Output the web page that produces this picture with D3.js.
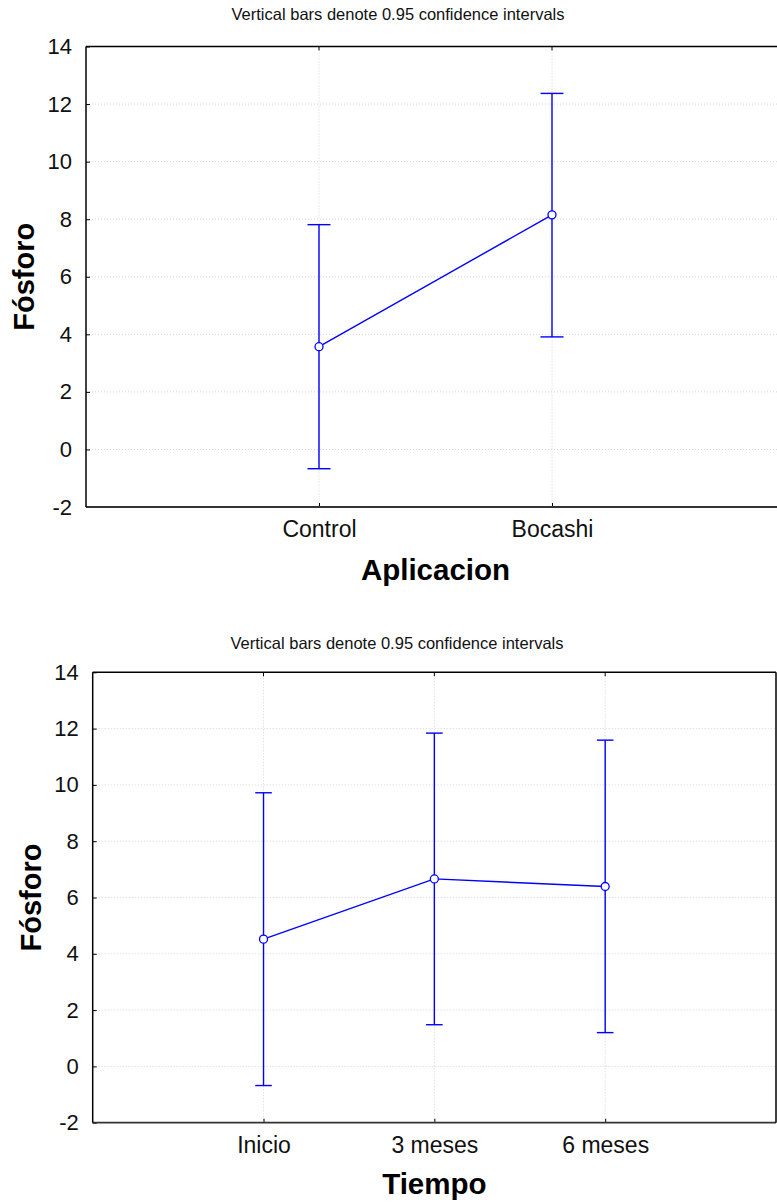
<!DOCTYPE html>
<html>
<head>
<meta charset="utf-8">
<script src="https://cdn.jsdelivr.net/npm/d3@7"></script>
<style>
  html, body { margin: 0; padding: 0; background: #fff; }
  svg { display: block; font-family: "Liberation Sans", Arial, sans-serif; }
</style>
</head>
<body>
<script>
// ---------- data ----------
const yTicks = [-2, 0, 2, 4, 6, 8, 10, 12, 14];
const noteText = "Vertical bars denote 0.95 confidence intervals";
const yLabel = "Fósforo";

const aplicacionCats = ["Control", "Bocashi"];
const aplicacionMean = [3.57, 8.15];
const aplicacionLow = [-0.67, 3.91];
const aplicacionHigh = [7.81, 12.37];

const tiempoCats = ["Inicio", "3 meses", "6 meses"];
const tiempoMean = [4.52, 6.66, 6.39];
const tiempoLow = [-0.68, 1.48, 1.20];
const tiempoHigh = [9.72, 11.84, 11.59];

// ---------- drawing ----------
const W = 777, H = 1203;
const svg = d3.select("body").append("svg").attr("width", W).attr("height", H);
const blue = "#0000ff";

function panel(cfg) {
  const g = svg.append("g");
  const n = cfg.cats.length;
  const x = d3.scaleLinear().domain([0, n + 1]).range([cfg.left, cfg.right]);
  const y = d3.scaleLinear().domain([-2, 14]).range([cfg.bottom, cfg.top]);

  // note
  g.append("text").attr("x", cfg.noteX).attr("y", cfg.noteY)
    .attr("text-anchor", "middle").attr("font-size", 16.5).attr("fill", "#111")
    .text(noteText);

  // grid lines
  g.selectAll(".hg").data(yTicks.filter(t => t > -2 && t < 14)).join("line")
    .attr("x1", cfg.left).attr("x2", cfg.right)
    .attr("y1", d => y(d)).attr("y2", d => y(d))
    .attr("stroke", "#d4d4d4").attr("stroke-width", 1).attr("stroke-dasharray", "1,2");
  g.selectAll(".vg").data(cfg.cats).join("line")
    .attr("x1", (d, i) => x(i + 1)).attr("x2", (d, i) => x(i + 1))
    .attr("y1", cfg.top).attr("y2", cfg.bottom)
    .attr("stroke", "#d4d4d4").attr("stroke-width", 1).attr("stroke-dasharray", "1,2");

  // y axis (ticks inward)
  const ya = d3.axisLeft(y).tickValues(yTicks).tickSize(-4).tickPadding(14).tickFormat(d => String(d));
  const yg = g.append("g").attr("transform", `translate(${cfg.left},0)`).call(ya);
  yg.select(".domain").remove();
  yg.selectAll("line").attr("stroke", "#000");
  yg.selectAll("text").attr("font-size", 22).attr("fill", "#111")
    .attr("font-family", "'Liberation Sans', Arial, sans-serif");

  // x axis categories (ticks inward)
  const xa = d3.axisBottom(x).tickValues(d3.range(1, n + 1)).tickSize(-4).tickPadding(0)
    .tickFormat(i => cfg.cats[i - 1]);
  const xg = g.append("g").attr("transform", `translate(0,${cfg.bottom})`).call(xa);
  xg.select(".domain").remove();
  xg.selectAll("line").attr("stroke", "#000");
  xg.selectAll("text").attr("font-size", 23).attr("fill", "#111").attr("dy", null).attr("y", 30)
    .attr("font-family", "'Liberation Sans', Arial, sans-serif");
  // top ticks
  g.selectAll(".tt").data(cfg.cats).join("line")
    .attr("x1", (d, i) => x(i + 1)).attr("x2", (d, i) => x(i + 1))
    .attr("y1", cfg.top).attr("y2", cfg.top + 4).attr("stroke", "#000");

  // frame
  g.append("line").attr("x1", cfg.left).attr("x2", cfg.right).attr("y1", cfg.top).attr("y2", cfg.top)
    .attr("stroke", "#000").attr("stroke-width", 1.5);
  g.append("line").attr("x1", cfg.left).attr("x2", cfg.right).attr("y1", cfg.bottom).attr("y2", cfg.bottom)
    .attr("stroke", "#333").attr("stroke-width", 1.8);
  g.append("line").attr("x1", cfg.left).attr("x2", cfg.left).attr("y1", cfg.top).attr("y2", cfg.bottom)
    .attr("stroke", "#000").attr("stroke-width", 1.5);
  g.append("line").attr("x1", cfg.right).attr("x2", cfg.right).attr("y1", cfg.top).attr("y2", cfg.bottom)
    .attr("stroke", "#000").attr("stroke-width", 1.5);

  // axis titles
  g.append("text").attr("x", (cfg.left + cfg.right) / 2).attr("y", cfg.bottom + cfg.xTitleGap)
    .attr("text-anchor", "middle").attr("font-size", 29.5).attr("font-weight", "bold").attr("fill", "#000")
    .text(cfg.xTitle);
  g.append("text")
    .attr("transform", `translate(${cfg.yTitleX},${(cfg.top + cfg.bottom) / 2}) rotate(-90)`)
    .attr("text-anchor", "middle").attr("font-size", 29).attr("font-weight", "bold").attr("fill", "#000")
    .text(yLabel);

  // error bars
  const idx = d3.range(n);
  g.selectAll(".eb").data(idx).join("line")
    .attr("x1", i => x(i + 1)).attr("x2", i => x(i + 1))
    .attr("y1", i => y(cfg.low[i])).attr("y2", i => y(cfg.high[i]))
    .attr("stroke", blue).attr("stroke-width", 1.4);
  ["low", "high"].forEach(k => {
    g.selectAll(".cap" + k).data(idx).join("line")
      .attr("x1", i => x(i + 1) - cfg.cap).attr("x2", i => x(i + 1) + cfg.cap)
      .attr("y1", i => y(cfg[k][i])).attr("y2", i => y(cfg[k][i]))
      .attr("stroke", blue).attr("stroke-width", 1.4);
  });

  // mean line
  const line = d3.line().x(i => x(i + 1)).y(i => y(cfg.mean[i]));
  g.append("path").datum(idx).attr("d", line).attr("fill", "none")
    .attr("stroke", blue).attr("stroke-width", 1.4);
  g.selectAll(".pt").data(idx).join("circle")
    .attr("cx", i => x(i + 1)).attr("cy", i => y(cfg.mean[i])).attr("r", 4)
    .attr("fill", "#fff").attr("stroke", blue).attr("stroke-width", 1.3);
}

panel({
  cats: aplicacionCats, mean: aplicacionMean, low: aplicacionLow, high: aplicacionHigh,
  left: 86, right: 785, top: 46.5, bottom: 507,
  noteX: 398, noteY: 20, xTitle: "Aplicacion", xTitleGap: 73, yTitleX: 33.5, cap: 11.5
});
panel({
  cats: tiempoCats, mean: tiempoMean, low: tiempoLow, high: tiempoHigh,
  left: 92.7, right: 776, top: 672.3, bottom: 1122.7,
  noteX: 397, noteY: 649, xTitle: "Tiempo", xTitleGap: 71.6, yTitleX: 41, cap: 8.3
});
</script>
</body>
</html>
